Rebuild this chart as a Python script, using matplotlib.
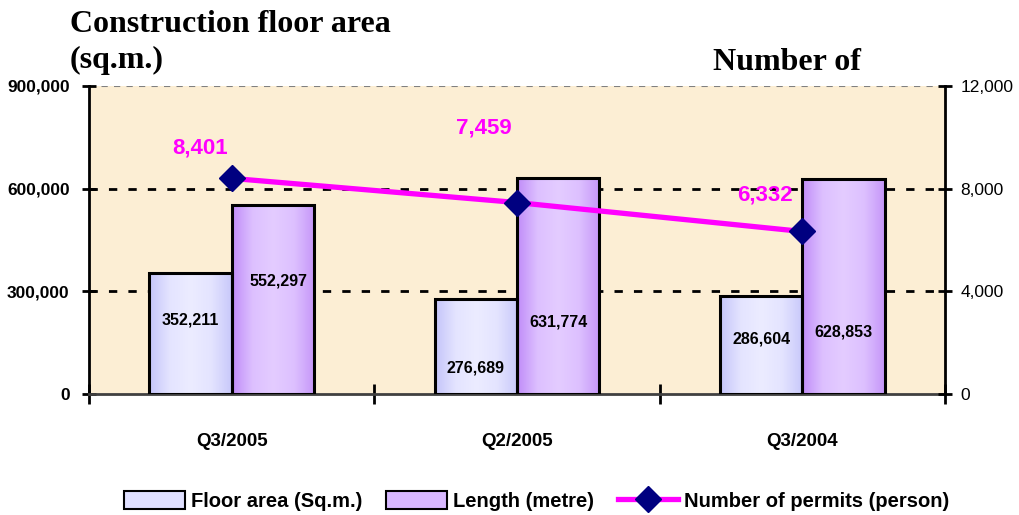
import matplotlib
matplotlib.use("Agg")
import matplotlib.pyplot as plt
import numpy as np
from matplotlib.lines import Line2D
from matplotlib.patches import Patch
from matplotlib.colors import LinearSegmentedColormap

categories = ["Q3/2005", "Q2/2005", "Q3/2004"]
floor_area = [352211, 276689, 286604]
length_m = [552297, 631774, 628853]
permits = [8401, 7459, 6332]
left_ticks = [0, 300000, 600000, 900000]
right_ticks = [0, 4000, 8000, 12000]

# label placement (fraction of bar height) - style only
floor_label_frac = [0.614, 0.275, 0.56]
length_label_frac = [0.598, 0.333, 0.29]
permit_label_off = [(-0.11, 1170), (-0.115, 2920), (-0.13, 1440)]

fig = plt.figure(figsize=(10.19, 5.15), dpi=100)
ax = fig.add_axes([89/1019, 1-394/515, (945-89)/1019, (394-86)/515])
ax.set_facecolor("#FCEED4")
x = np.arange(len(categories))
w = 0.288

cmap_floor = LinearSegmentedColormap.from_list("f", ["#C4C4FA", "#E4E4FF", "#ECECFF", "#E4E4FF", "#C8C8FA"])
cmap_len = LinearSegmentedColormap.from_list("l", ["#C08CF8", "#DDC0FF", "#E4CCFF", "#DDC0FF", "#C596F8"])
grad = np.linspace(0, 1, 256).reshape(1, -1)

for vals, off, cm in [(floor_area, -w/2, cmap_floor), (length_m, w/2, cmap_len)]:
    bars = ax.bar(x + off, vals, w, color="none", edgecolor="black", linewidth=2.2, zorder=3)
    for b in bars:
        im = ax.imshow(grad, cmap=cm, aspect="auto", zorder=2.5,
                       extent=[b.get_x(), b.get_x() + b.get_width(), 0, b.get_height()])
        im.set_clip_path(b)

ax.set_xlim(-0.5, 2.5)
ax.set_ylim(0, 900000)

for i, v in enumerate(floor_area):
    ax.text(x[i] - w/2, v * floor_label_frac[i], f"{v:,}", ha="center", va="center",
            fontsize=11.5, fontweight="bold", family="Liberation Sans", zorder=5)
for i, v in enumerate(length_m):
    ax.text(x[i] + w/2 + (0.02 if i == 0 else 0), v * length_label_frac[i], f"{v:,}", ha="center", va="center",
            fontsize=11.5, fontweight="bold", family="Liberation Sans", zorder=5)

for yv in [300000, 600000]:
    ax.axhline(yv, color="black", linestyle=(0, (3, 4)), linewidth=2, zorder=1)
ax.axhline(900000, color="#808080", linestyle=(0, (3, 3)), linewidth=1.5, zorder=1)

for s in ["top", "right"]:
    ax.spines[s].set_visible(False)
ax.spines["left"].set_linewidth(2)
ax.spines["bottom"].set_linewidth(2)
ax.spines["bottom"].set_color("#404040")

ax.set_yticks(left_ticks)
ax.set_yticklabels([f"{t:,}" for t in left_ticks], fontsize=12.5, fontweight="bold", family="Liberation Sans")
ax.tick_params(axis="y", direction="inout", length=10, width=2, pad=9)
ax.set_xticks([-0.5, 0.5, 1.5, 2.5])
ax.set_xticklabels([])
ax.tick_params(axis="x", direction="inout", length=14, width=2)
for i, c in enumerate(categories):
    ax.text(x[i], -0.155, c, transform=ax.get_xaxis_transform(), ha="center", va="center",
            fontsize=13.5, fontweight="bold", family="Liberation Sans")

ax2 = ax.twinx()
ax2.set_ylim(0, 12000)
ax2.set_xlim(-0.5, 2.5)
for s in ["top", "left", "bottom"]:
    ax2.spines[s].set_visible(False)
ax2.spines["right"].set_linewidth(2)
ax2.set_yticks(right_ticks)
ax2.set_yticklabels([f"{t:,}" for t in right_ticks], fontsize=12.5, family="Liberation Sans")
ax2.tick_params(axis="y", direction="inout", length=10, width=2, pad=6)
ax2.plot(x, permits, color="#FF00FF", linewidth=3.8, marker="D", markersize=13,
         markerfacecolor="#000080", markeredgecolor="#000080", zorder=6)
for i, v in enumerate(permits):
    ax2.text(x[i] + permit_label_off[i][0], v + permit_label_off[i][1], f"{v:,}", ha="center", va="center",
             fontsize=16, fontweight="bold", color="#FF00FF", family="Liberation Sans", zorder=7)

fig.text(70/1019, 1-24/515, "Construction floor area", fontsize=23, fontweight="bold",
         family="Liberation Serif", va="center", ha="left")
fig.text(70/1019, 1-60/515, "(sq.m.)", fontsize=23, fontweight="bold",
         family="Liberation Serif", va="center", ha="left")
fig.text(713/1019, 1-62/515, "Number of", fontsize=23, fontweight="bold",
         family="Liberation Serif", va="center", ha="left")

handles = [Patch(facecolor="#E0E0FF", edgecolor="black", linewidth=1.5),
           Patch(facecolor="#D8B8FF", edgecolor="black", linewidth=1.5),
           Line2D([0], [0], color="#FF00FF", linewidth=3.8, marker="D", markersize=13,
                  markerfacecolor="#000080", markeredgecolor="#000080")]
labels = ["Floor area (Sq.m.)", "Length (metre)", "Number of permits (person)"]
fig.legend(handles, labels, loc="center", bbox_to_anchor=(537/1019, 1-501/515), ncol=3,
           frameon=False, prop={"family": "Liberation Sans", "weight": "bold", "size": 14.5},
           handlelength=3.0, handleheight=1.0, columnspacing=1.2, handletextpad=0.3)

fig.savefig("out.png", dpi=100)
